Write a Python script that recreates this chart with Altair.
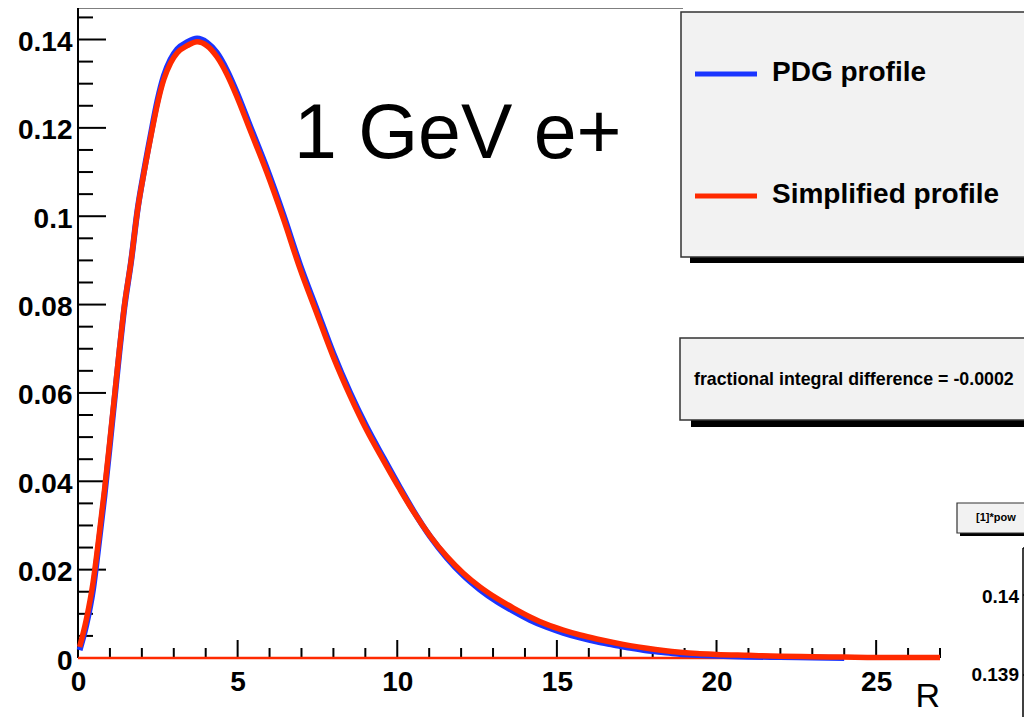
import altair as alt
import pandas as pd

# ---- data ----
r_simplified = [0.05, 0.26, 0.47, 0.62, 0.83, 0.98, 1.14, 1.30, 1.45, 1.66, 1.87, 2.07, 2.28, 2.49,
                2.69, 2.90, 3.11, 3.42, 3.73, 4.04, 4.35, 4.66, 4.97, 5.39, 5.91, 6.43, 6.95, 7.48,
                8.00, 8.52, 9.04, 9.56, 10.09, 10.50, 11.03, 11.55, 12.07, 12.59, 13.12, 13.64,
                14.16, 14.68, 15.20, 15.73, 16.25, 16.77, 17.29, 17.82, 18.34, 18.86, 19.38, 20.0,
                21.0, 22.0, 23.0, 24.0, 25.0, 26.0, 27.0]
simplified = [0.0025, 0.0087, 0.0170, 0.0253, 0.0380, 0.0480, 0.0590, 0.0700, 0.0795, 0.0897,
              0.1016, 0.1100, 0.1180, 0.1255, 0.1310, 0.1347, 0.1370, 0.1386, 0.1395, 0.1386,
              0.1361, 0.1322, 0.1272, 0.1195, 0.1100, 0.0995, 0.0882, 0.0780, 0.0681, 0.0594,
              0.0516, 0.0448, 0.0381, 0.0332, 0.0276, 0.0230, 0.0192, 0.0161, 0.0135, 0.0113,
              0.0093, 0.0076, 0.0063, 0.0052, 0.0043, 0.0035, 0.0028, 0.0022, 0.0017, 0.0013,
              0.0010, 0.0008, 0.0006, 0.0004, 0.0003, 0.0002, 0.0001, 0.0001, 0.0001]

r_pdg = [0.05, 0.26, 0.47, 0.62, 0.83, 0.98, 1.14, 1.30, 1.45, 1.66, 1.87, 2.07, 2.28, 2.49,
         2.69, 2.90, 3.11, 3.42, 3.73, 4.04, 4.35, 4.66, 4.97, 5.39, 5.91, 6.43, 6.95, 7.48,
         8.00, 8.52, 9.04, 9.56, 10.09, 10.50, 11.03, 11.55, 12.07, 12.59, 13.12, 13.64,
         14.16, 14.68, 15.20, 15.73, 16.25, 16.77, 17.29, 17.82, 18.34, 18.86, 19.38, 20.0,
         21.0, 22.0, 23.0, 24.0]
pdg = [0.0018, 0.0075, 0.0155, 0.0240, 0.0368, 0.0470, 0.0583, 0.0695, 0.0792, 0.0896,
       0.1017, 0.1103, 0.1185, 0.1262, 0.1318, 0.1355, 0.1378, 0.1394, 0.1402, 0.1393,
       0.1370, 0.1331, 0.1281, 0.1204, 0.1109, 0.1004, 0.0891, 0.0789, 0.0689, 0.0601,
       0.0523, 0.0454, 0.0385, 0.0334, 0.0275, 0.0227, 0.0187, 0.0155, 0.0128, 0.0106,
       0.0086, 0.0070, 0.0057, 0.0046, 0.0037, 0.0030, 0.0023, 0.0017, 0.0013, 0.0009,
       0.0007, 0.0005, 0.0003, 0.0002, 0.0001, 0.0]

x_major = [0, 5, 10, 15, 20, 25]
x_minor = [1, 2, 3, 4, 6, 7, 8, 9, 11, 12, 13, 14, 16, 17, 18, 19, 21, 22, 23, 24, 26, 27]
y_major = [0, 0.02, 0.04, 0.06, 0.08, 0.10, 0.12, 0.14]
y_minor = [0.005, 0.01, 0.015, 0.025, 0.03, 0.035, 0.045, 0.05, 0.055, 0.065, 0.07, 0.075,
           0.085, 0.09, 0.095, 0.105, 0.11, 0.115, 0.125, 0.13, 0.135, 0.145]

legend_labels = ["PDG profile", "Simplified profile"]
BLUE = "#1a35ff"
RED = "#ff2a00"
FONT = "Liberation Sans"

W, H = 862, 645
xs = alt.Scale(domain=[0, 27], nice=False, zero=False)
ys = alt.Scale(domain=[0, 0.146], nice=False, zero=False)

X_AXIS = alt.Axis(values=x_major, format="d", ticks=False, grid=False, domain=False,
                  labelFont=FONT, labelFontWeight="bold", labelFontSize=28, labelColor="black",
                  labelPadding=10, labelFlush=False, labelOverlap=False, title=None)
Y_AXIS = alt.Axis(values=y_major, format="~g", ticks=False, grid=False, domain=False,
                  labelFont=FONT, labelFontWeight="bold", labelFontSize=28, labelColor="black",
                  labelPadding=6, labelFlush=False, labelOverlap=False, labelOffset=3, title=None)

one = pd.DataFrame({"a": [0]})


def px_rule(x1, x2, y1, y2, color="black", w=2):
    return alt.Chart(one).mark_rule(color=color, strokeWidth=w).encode(
        x=alt.value(x1), x2=alt.value(x2), y=alt.value(y1), y2=alt.value(y2))


def px_rect(x1, x2, y1, y2, fill, stroke=None, sw=0):
    kw = dict(fill=fill)
    if stroke:
        kw.update(stroke=stroke, strokeWidth=sw)
    return alt.Chart(one).mark_rect(**kw).encode(
        x=alt.value(x1), x2=alt.value(x2), y=alt.value(y1), y2=alt.value(y2))


def px_text(t, x, y, size, weight="normal", align="left", baseline="middle"):
    return alt.Chart(pd.DataFrame({"t": [t]})).mark_text(
        font=FONT, fontSize=size, fontWeight=weight, align=align, baseline=baseline,
        color="black").encode(text="t:N", x=alt.value(x), y=alt.value(y))


pdg_df = pd.DataFrame({"x": r_pdg, "y": pdg})
sim_df = pd.DataFrame({"x": r_simplified, "y": simplified})

pdg_line = alt.Chart(pdg_df).mark_line(color=BLUE, strokeWidth=6, interpolate="monotone").encode(
    x=alt.X("x:Q", scale=xs, axis=X_AXIS), y=alt.Y("y:Q", scale=ys, axis=Y_AXIS))
sim_line = alt.Chart(sim_df).mark_line(color=RED, strokeWidth=5.5, interpolate="monotone").encode(
    x=alt.X("x:Q", scale=xs, axis=X_AXIS), y=alt.Y("y:Q", scale=ys, axis=Y_AXIS))

base_red = alt.Chart(pd.DataFrame({"x": [0], "x2": [27], "y": [0]})).mark_rule(
    color=RED, strokeWidth=2.5).encode(
    x=alt.X("x:Q", scale=xs, axis=X_AXIS), x2="x2:Q", y=alt.Y("y:Q", scale=ys, axis=Y_AXIS))

xmaj = alt.Chart(pd.DataFrame({"x": x_major})).mark_rule(color="black", strokeWidth=2).encode(
    x=alt.X("x:Q", scale=xs, axis=X_AXIS), y=alt.value(H), y2=alt.value(H - 18))
xmin = alt.Chart(pd.DataFrame({"x": x_minor})).mark_rule(color="black", strokeWidth=2).encode(
    x=alt.X("x:Q", scale=xs, axis=X_AXIS), y=alt.value(H), y2=alt.value(H - 10))
ymaj = alt.Chart(pd.DataFrame({"y": y_major})).mark_rule(color="black", strokeWidth=2).encode(
    y=alt.Y("y:Q", scale=ys, axis=Y_AXIS), x=alt.value(0), x2=alt.value(28))
ymin = alt.Chart(pd.DataFrame({"y": y_minor})).mark_rule(color="black", strokeWidth=2).encode(
    y=alt.Y("y:Q", scale=ys, axis=Y_AXIS), x=alt.value(0), x2=alt.value(15))

frame = [
    px_rule(0, W, H, H, "black", 2),          # x axis line
    px_rule(0, 0, -6, H, "black", 2),         # y axis line
    px_rule(0, 605, -5.5, -5.5, "black", 2),  # top frame
]

# legend box
legend = [
    px_rect(612, 970, 6, 250, "black"),
    px_rect(603, 970, -1, 244, "#f2f2f2", "#333333", 1.5),
    px_rule(617, 679, 61, 61, BLUE, 5),
    px_rule(617, 679, 183, 183, RED, 5),
    px_text(legend_labels[0], 694, 60, 28, "bold"),
    px_text(legend_labels[1], 694, 182, 28, "bold"),
]

# fractional integral difference box
frac = [
    px_rect(613, 970, 332, 414, "black"),
    px_rect(602, 970, 325, 407, "#f2f2f2", "#333333", 1.5),
    px_text("fractional integral difference = -0.0002", 616, 367, 17.8, "bold"),
]

# partially visible inset pad at bottom right
inset = [
    px_rect(882, 970, 494, 523, "black"),
    px_rect(879, 970, 490, 520, "#f2f2f2", "#333333", 1.2),
    px_text("[1]*pow", 898, 505, 11, "bold"),
    px_rule(945, 945, 535, 715, "black", 1.5),
    px_rule(945, 960, 535, 535, "black", 1.5),
    px_rule(945, 960, 582, 582, "black", 1.5),
    px_rule(945, 960, 662, 662, "black", 1.5),
    px_text("0.14", 941, 584, 19, "bold", align="right"),
    px_text("0.139", 941, 662, 19, "bold", align="right"),
]

texts = [
    px_text("1 GeV e+", 216, 145, 77, "normal", baseline="alphabetic"),
    px_text("R", 862, 694, 34, "normal", align="right", baseline="alphabetic"),
]

chart = alt.layer(
    *frame, xmin, xmaj, ymin, ymaj, base_red, pdg_line, sim_line,
    *legend, *frac, *inset, *texts
).properties(
    width=W, height=H,
    padding={"left": 70, "top": 5, "right": 84, "bottom": 59},
    autosize=alt.AutoSizeParams(type="none"),
    background="white",
).configure_view(stroke=None)

chart.save("out.html", embed_options={"renderer": "svg", "actions": False})
